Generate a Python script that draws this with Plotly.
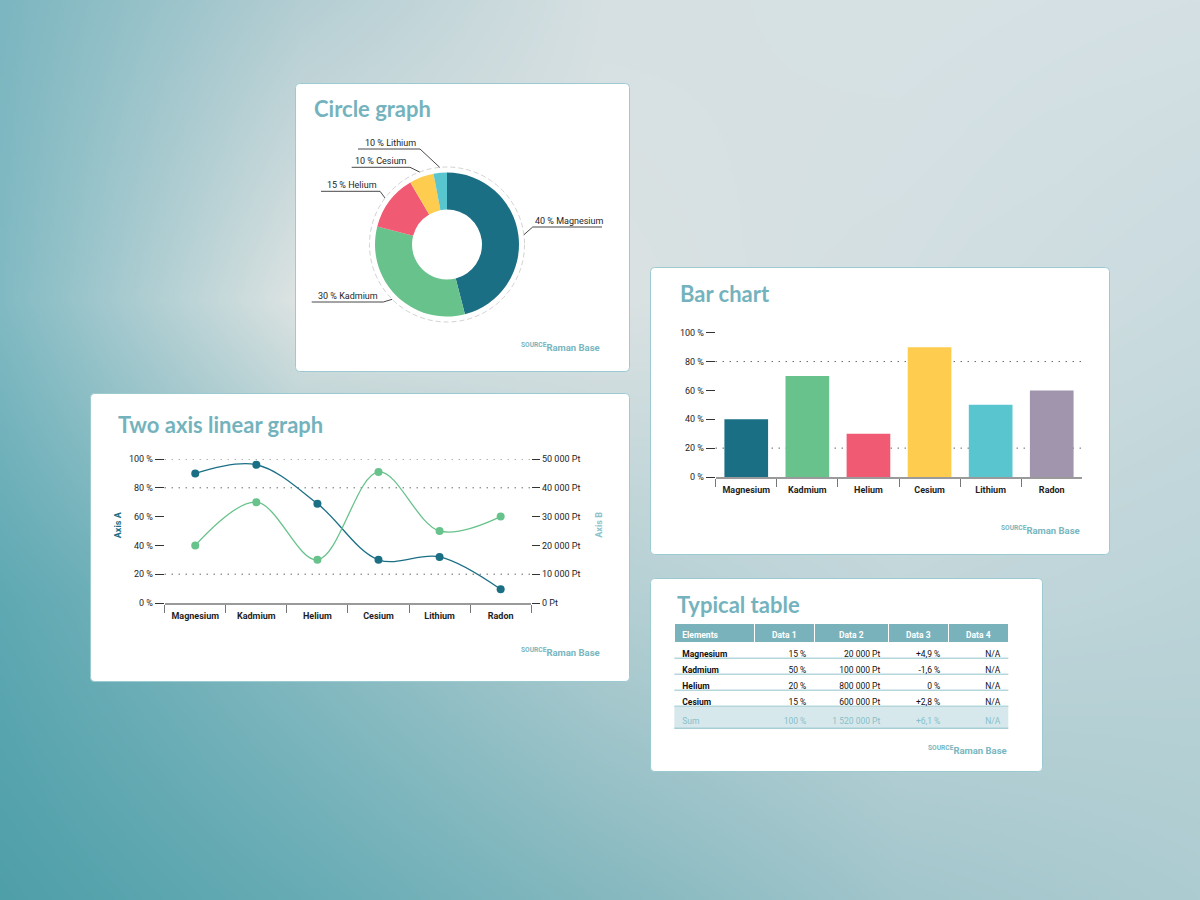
import base64
import struct
import zlib

import numpy as np
import plotly.graph_objects as go

W, H = 1200, 900


def fx(p):
    return p / W


def fy(p):
    return 1 - p / H


# ---------------- data ----------------
elements = ["Magnesium", "Kadmium", "Helium", "Cesium", "Lithium", "Radon"]
el_colors = ["#1b6f85", "#68c28b", "#f05a73", "#fecc4e", "#58c5cf", "#a095ad"]

pie_labels = ["Magnesium", "Kadmium", "Helium", "Cesium", "Lithium"]
pie_values = [46, 33, 12.5, 5.5, 3]
pie_pct_text = ["40 %", "30 %", "15 %", "10 %", "10 %"]

bar_values = [40, 70, 30, 90, 50, 60]

axis_a_values = [90, 96, 69, 30, 32, 9.5]
axis_b_values = [20000, 35000, 15000, 45500, 25000, 30000]

pct_ticks = [0, 20, 40, 60, 80, 100]
pt_ticks = [0, 10000, 20000, 30000, 40000, 50000]
line_grid_vals = [20, 80, 100]
bar_grid_vals = [20, 80]

table_header = ["Elements", "Data 1", "Data 2", "Data 3", "Data 4"]
table_elements = ["Magnesium", "Kadmium", "Helium", "Cesium"]
table_data1 = ["15 %", "50 %", "20 %", "15 %"]
table_data2 = ["20 000 Pt", "100 000 Pt", "800 000 Pt", "600 000 Pt"]
table_data3 = ["+4,9 %", "-1,6 %", "0 %", "+2,8 %"]
table_data4 = ["N/A", "N/A", "N/A", "N/A"]
table_sum = ["Sum", "100 %", "1 520 000 Pt", "+6,1 %", "N/A"]

pct_ticktext = [f"{v} %" for v in pct_ticks]
pt_ticktext = [f"{v:,}".replace(",", " ") + " Pt" for v in pt_ticks]

# ---------------- style ----------------
TITLE_C = "#74b3bd"
SRC_C = "#78b6c0"
DARK = "#1b6f85"
GREEN = "#68c28b"
FONT = "Roboto"
TFONT = "Lato"
INK = "#1e1e1e"

# ---------------- background gradient image ----------------
gx = np.array([0, 300, 600, 900, 1200], float)
gy = np.array([0, 300, 600, 900], float)
gcols = [
    ["#7cb6c0", "#b4ced3", "#d6e0e2", "#d7e2e5", "#d4e0e4"],
    ["#82bac3", "#dfe4e3", "#dbe2e3", "#d3dfe2", "#cadbdf"],
    ["#5fa9b3", "#8bbcc3", "#b3cfd3", "#c3d7db", "#bcd4d8"],
    ["#4f9fa9", "#67acb5", "#85b8bf", "#a2c6cc", "#adccd1"],
]
grid = np.array([[[int(c[i:i + 2], 16) for i in (1, 3, 5)] for c in row] for row in gcols], float)
iw, ih = 400, 300
px_ = np.linspace(0, W, iw)
py_ = np.linspace(0, H, ih)
tmp = np.stack([np.stack([np.interp(px_, gx, grid[j, :, k]) for k in range(3)], -1) for j in range(len(gy))])
img = np.stack([np.stack([np.interp(py_, gy, tmp[:, i, k]) for k in range(3)], -1) for i in range(iw)], 1)
img = np.clip(img, 0, 255).astype(np.uint8)


def png_uri(arr):
    h, w, _ = arr.shape
    raw = b"".join(b"\x00" + arr[i].tobytes() for i in range(h))

    def chunk(t, d):
        c = struct.pack(">I", len(d)) + t + d
        return c + struct.pack(">I", zlib.crc32(t + d) & 0xFFFFFFFF)

    png = (b"\x89PNG\r\n\x1a\n"
           + chunk(b"IHDR", struct.pack(">IIBBBBB", w, h, 8, 2, 0, 0, 0))
           + chunk(b"IDAT", zlib.compress(raw, 9))
           + chunk(b"IEND", b""))
    return "data:image/png;base64," + base64.b64encode(png).decode()


# ---------------- layout geometry (pixels) ----------------
panels = {
    "circle": (295.5, 83.5, 629.5, 371.5),
    "line": (90.5, 393.5, 629.5, 681.5),
    "bar": (650.5, 267.5, 1109.5, 554.5),
    "table": (650.5, 578.5, 1042.5, 771.5),
}
titles = [("Circle graph", 312, 108), ("Two axis linear graph", 115.5, 424.5),
          ("Bar chart", 678, 293), ("Typical table", 675, 604)]
sources = [(601.5, 346.5), (601.5, 652), (1081.5, 529.5), (1008.5, 750)]

LINE_X0, LINE_X1, LINE_Y0, LINE_Y100 = 164.7, 531.2, 603, 459
BAR_X0, BAR_X1, BAR_Y0, BAR_Y100 = 715.7, 1082.3, 477, 332.7

PIE_CX, PIE_CY, PIE_R, RING_R = 447, 244.5, 72, 77.5
# (underline y, far x, near x, text left x)
pie_label_pos = [
    (227, 602, 532.7, 533),
    (302, 311.7, 383.3, 315.7),
    (191.3, 321, 380, 325),
    (167.3, 351.7, 410, 353.3),
    (149, 358, 420, 363),
]

TBL_X0, TBL_X1, TBL_TOP = 674.3, 1008.3, 623.3
HEAD_H, ROW_H, SUM_H = 19, 16, 22
SUM_TEXT_SHIFT = 3.5
col_widths = [80, 60, 74, 60, 60]


def rrect(x0, y0, x1, y1, r=4):
    X = fx
    Y = fy
    return (f"M {X(x0 + r)},{Y(y0)} L {X(x1 - r)},{Y(y0)} Q {X(x1)},{Y(y0)} {X(x1)},{Y(y0 + r)} "
            f"L {X(x1)},{Y(y1 - r)} Q {X(x1)},{Y(y1)} {X(x1 - r)},{Y(y1)} "
            f"L {X(x0 + r)},{Y(y1)} Q {X(x0)},{Y(y1)} {X(x0)},{Y(y1 - r)} "
            f"L {X(x0)},{Y(y0 + r)} Q {X(x0)},{Y(y0)} {X(x0 + r)},{Y(y0)} Z")


shapes = []
for key, (x0, y0, x1, y1) in panels.items():
    shapes.append(dict(type="path", path=rrect(x0, y0, x1, y1), xref="paper", yref="paper",
                       fillcolor="white", line=dict(color="#9ccad1", width=1), layer="below"))

# dotted gridlines at selected values (through the axes' own scales)
grid_line = dict(color="#222222", width=1, dash="1px,6px")
for v in line_grid_vals:
    shapes.append(dict(type="line", xref="x domain", yref="y", x0=0, x1=1, y0=v, y1=v,
                       line=grid_line, layer="below"))
for v in bar_grid_vals:
    shapes.append(dict(type="line", xref="x2 domain", yref="y4", x0=0, x1=1, y0=v, y1=v,
                       line=grid_line, layer="below"))

# dashed ring around the donut
shapes.append(dict(type="circle", xref="paper", yref="paper",
                   x0=fx(PIE_CX - RING_R), x1=fx(PIE_CX + RING_R),
                   y0=fy(PIE_CY + RING_R), y1=fy(PIE_CY - RING_R),
                   line=dict(color="#d2d2d2", width=1, dash="5px,3px"), layer="below"))

# leader lines computed from the slice mid angles
tot = float(sum(pie_values))
cum = np.cumsum(pie_values)
annotations = []
for i, v in enumerate(pie_values):
    mid = (cum[i] - v / 2) / tot * 2 * np.pi
    ex = PIE_CX + RING_R * np.sin(mid)
    ey = PIE_CY - RING_R * np.cos(mid)
    uy, xfar, xnear, tx = pie_label_pos[i]
    shapes.append(dict(type="line", xref="paper", yref="paper", x0=fx(ex), y0=fy(ey),
                       x1=fx(xnear), y1=fy(uy), line=dict(color="#333333", width=0.9)))
    shapes.append(dict(type="line", xref="paper", yref="paper", x0=fx(xnear), y0=fy(uy),
                       x1=fx(xfar), y1=fy(uy), line=dict(color="#333333", width=0.9)))
    annotations.append(dict(text=f"{pie_pct_text[i]} {pie_labels[i]}", xref="paper", yref="paper",
                            x=fx(tx), y=fy(uy - 6), xanchor="left", yanchor="middle",
                            showarrow=False, font=dict(family=FONT, size=9, color=INK)))

# table row separators and sum-row band
row_bottoms = [TBL_TOP + HEAD_H + ROW_H * (i + 1) for i in range(len(table_elements))]
sum_bottom = row_bottoms[-1] + SUM_H
shapes.append(dict(type="rect", xref="paper", yref="paper", x0=fx(TBL_X0), x1=fx(TBL_X1),
                   y0=fy(sum_bottom), y1=fy(row_bottoms[-1]), fillcolor="#d7e8ec",
                   line=dict(width=0), layer="below"))
for yb in row_bottoms:
    shapes.append(dict(type="line", xref="paper", yref="paper", x0=fx(TBL_X0), x1=fx(TBL_X1),
                       y0=fy(yb), y1=fy(yb), line=dict(color="#b5d7dc", width=1.5), layer="below"))
shapes.append(dict(type="line", xref="paper", yref="paper", x0=fx(TBL_X0), x1=fx(TBL_X1),
                   y0=fy(sum_bottom), y1=fy(sum_bottom), line=dict(color="#a6cfd5", width=1.5),
                   layer="above"))

for text, x, y in titles:
    annotations.append(dict(text=text, xref="paper", yref="paper", x=fx(x), y=fy(y),
                            xanchor="left", yanchor="middle", showarrow=False,
                            font=dict(family=TFONT, size=22, color=TITLE_C, weight="bold")))
for x, y in sources:
    annotations.append(dict(text="<sup>SOURCE</sup>Raman Base", xref="paper", yref="paper",
                            x=fx(x), y=fy(y), xanchor="right", yanchor="middle", showarrow=False,
                            font=dict(family=FONT, size=9.5, color=SRC_C, weight="bold")))

annotations.append(dict(text="Axis A", xref="paper", yref="paper", x=fx(117.5), y=fy(524.7),
                        textangle=-90, showarrow=False, xanchor="center", yanchor="middle",
                        font=dict(family=FONT, size=9, color=DARK, weight="bold")))
annotations.append(dict(text="Axis B", xref="paper", yref="paper", x=fx(599), y=fy(524.7),
                        textangle=-90, showarrow=False, xanchor="center", yanchor="middle",
                        font=dict(family=FONT, size=9, color="#8cc3cb", weight="bold")))

# ---------------- traces ----------------
fig = go.Figure()

fig.add_trace(go.Pie(
    labels=pie_labels, values=pie_values, sort=False, direction="clockwise", rotation=0,
    hole=0.486, textinfo="none", marker=dict(colors=el_colors[:5], line=dict(width=0)),
    domain=dict(x=[fx(PIE_CX - PIE_R), fx(PIE_CX + PIE_R)], y=[fy(PIE_CY + PIE_R), fy(PIE_CY - PIE_R)]),
    showlegend=False, hoverinfo="label+percent"))

fig.add_trace(go.Scatter(
    x=elements, y=axis_a_values, mode="lines+markers", xaxis="x", yaxis="y",
    line=dict(color=DARK, width=1.3, shape="spline", smoothing=1.0),
    marker=dict(size=8, color=DARK), cliponaxis=False, showlegend=False, name="Axis A"))
fig.add_trace(go.Scatter(
    x=elements, y=axis_b_values, mode="lines+markers", xaxis="x", yaxis="y2",
    line=dict(color=GREEN, width=1.3, shape="spline", smoothing=1.0),
    marker=dict(size=8, color=GREEN), cliponaxis=False, showlegend=False, name="Axis B"))

fig.add_trace(go.Bar(
    x=elements, y=bar_values, xaxis="x2", yaxis="y4", marker=dict(color=el_colors, line=dict(width=0)),
    showlegend=False, name="Bar"))

cw = col_widths
fig.add_trace(go.Table(
    domain=dict(x=[fx(TBL_X0), fx(TBL_X1)], y=[fy(row_bottoms[-1] + 2), fy(TBL_TOP)]),
    columnwidth=cw,
    header=dict(values=table_header, fill_color="#7ab2bc",
                font=dict(family=FONT, size=8.5, color="white", weight="bold"),
                align=["left", "center", "center", "center", "center"], height=HEAD_H,
                line=dict(color="white", width=1.5)),
    cells=dict(values=[table_elements, table_data1, table_data2, table_data3, table_data4],
               fill_color="rgba(0,0,0,0)",
               font=dict(family=FONT, size=8.5, color="#111111",
                         weight=["bold", "normal", "normal", "normal", "normal"]),
               align=["left", "right", "right", "right", "right"], height=ROW_H,
               line=dict(color="rgba(0,0,0,0)", width=0))))
fig.add_trace(go.Table(
    domain=dict(x=[fx(TBL_X0), fx(TBL_X1)],
                y=[fy(sum_bottom + 2), fy(row_bottoms[-1] + SUM_TEXT_SHIFT)]),
    columnwidth=cw,
    header=dict(values=table_sum, fill_color="rgba(0,0,0,0)",
                font=dict(family=FONT, size=8.5, color="#86c0c9"),
                align=["left", "right", "right", "right", "right"], height=SUM_H - SUM_TEXT_SHIFT,
                line=dict(color="rgba(0,0,0,0)", width=0)),
    cells=dict(values=[]))
)

# ---------------- axes ----------------
cat_axis = dict(type="category", tickson="boundaries", ticks="outside", ticklen=8, tickwidth=1,
                tickcolor="#777777", showline=True, linecolor="#9a9a9a", linewidth=1.5,
                showgrid=False, zeroline=False, range=[-0.5, 5.5], fixedrange=True,
                ticklabelstandoff=3,
                tickfont=dict(family=FONT, size=9, color=INK, weight="bold"), automargin=False)
val_axis = dict(ticks="outside", ticklen=9, tickwidth=1, tickcolor="#333333", showline=False,
                showgrid=False, zeroline=False, range=[0, 100], tickmode="array",
                tickvals=pct_ticks, ticktext=pct_ticktext,
                tickfont=dict(family=FONT, size=9, color=INK), automargin=False, fixedrange=True)

fig.update_layout(
    xaxis=dict(cat_axis, domain=[fx(LINE_X0), fx(LINE_X1)], anchor="y"),
    yaxis=dict(val_axis, domain=[fy(LINE_Y0), fy(LINE_Y100)], anchor="x"),
    yaxis2=dict(val_axis, range=[0, 50000], tickvals=pt_ticks, ticktext=pt_ticktext,
                ticklen=8, side="right", overlaying="y", anchor="x"),
    xaxis2=dict(cat_axis, domain=[fx(BAR_X0), fx(BAR_X1)], anchor="y4"),
    yaxis4=dict(val_axis, domain=[fy(BAR_Y0), fy(BAR_Y100)], anchor="x2"),
    bargap=0.285,
    width=W, height=H, margin=dict(l=0, r=0, t=0, b=0, pad=0),
    paper_bgcolor="#c9dadd", plot_bgcolor="rgba(0,0,0,0)",
    separators=", ",
    template="none",
    shapes=shapes, annotations=annotations,
    images=[dict(source=png_uri(img), xref="paper", yref="paper", x=0, y=1, sizex=1, sizey=1,
                 xanchor="left", yanchor="top", sizing="stretch", layer="below")],
    font=dict(family=FONT, color=INK),
    showlegend=False,
)

fig.write_html("out.html", config={"displayModeBar": False},
               post_script="document.body.style.margin='0px';document.body.style.overflow='hidden';")
